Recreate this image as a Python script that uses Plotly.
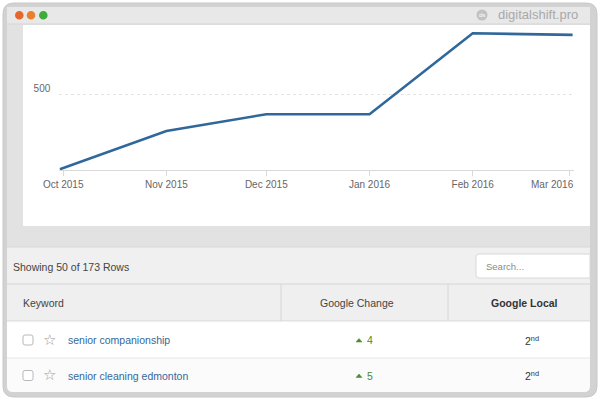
import plotly.graph_objects as go

W, H = 600, 400

# ---- chart data ----
dates = ["2015-09-30", "2015-11-01", "2015-12-01", "2016-01-01", "2016-02-01", "2016-03-02"]
values = [0, 255, 367, 367, 907, 896]
tick_dates = ["2015-10-01", "2015-11-01", "2015-12-01", "2016-01-01", "2016-02-01", "2016-03-01"]
tick_labels = ["Oct 2015", "Nov 2015", "Dec 2015", "Jan 2016", "Feb 2016", "Mar 2016"]
y_ticks = [500]
y_tick_labels = ["500"]

# ---- table data ----
status_text = "Showing 50 of 173 Rows"
search_placeholder = "Search..."
headers = ["Keyword", "Google Change", "Google Local"]
keywords = ["senior companionship", "senior cleaning edmonton"]
changes = [4, 5]
local_ranks = ["2", "2"]
local_suffix = ["nd", "nd"]
brand = "digitalshift.pro"

FONT = "Liberation Sans, Arial, sans-serif"


def X(px):
    return px / W


def Y(py):
    return 1 - py / H


def fmt(a, b):
    return f"{X(a):.5f},{Y(b):.5f}"


def rrect_path(x0, y0, x1, y1, r):
    return (f"M {fmt(x0 + r, y0)} L {fmt(x1 - r, y0)} Q {fmt(x1, y0)} {fmt(x1, y0 + r)} "
            f"L {fmt(x1, y1 - r)} Q {fmt(x1, y1)} {fmt(x1 - r, y1)} L {fmt(x0 + r, y1)} "
            f"Q {fmt(x0, y1)} {fmt(x0, y1 - r)} L {fmt(x0, y0 + r)} Q {fmt(x0, y0)} {fmt(x0 + r, y0)} Z")


def bottom_round_path(x0, y0, x1, y1, r):
    return (f"M {fmt(x0, y0)} L {fmt(x1, y0)} L {fmt(x1, y1 - r)} Q {fmt(x1, y1)} {fmt(x1 - r, y1)} "
            f"L {fmt(x0 + r, y1)} Q {fmt(x0, y1)} {fmt(x0, y1 - r)} Z")


shapes = []


def rect(x0, y0, x1, y1, fill, line=None, lw=0):
    shapes.append(dict(type="rect", xref="paper", yref="paper", x0=X(x0), x1=X(x1), y0=Y(y1), y1=Y(y0),
                       fillcolor=fill, line=dict(color=line or fill, width=lw), layer="below"))


def hline(x0, x1, y, color, w=1):
    shapes.append(dict(type="line", xref="paper", yref="paper", x0=X(x0), x1=X(x1), y0=Y(y), y1=Y(y),
                       line=dict(color=color, width=w), layer="below"))


def vline(x, y0, y1, color, w=1):
    shapes.append(dict(type="line", xref="paper", yref="paper", x0=X(x), x1=X(x), y0=Y(y0), y1=Y(y1),
                       line=dict(color=color, width=w), layer="below"))


def path(p, fill, line, lw=1):
    shapes.append(dict(type="path", xref="paper", yref="paper", path=p, fillcolor=fill,
                       line=dict(color=line, width=lw), layer="below"))


def circle(cx, cy, r, fill):
    shapes.append(dict(type="circle", xref="paper", yref="paper", x0=X(cx - r), x1=X(cx + r),
                       y0=Y(cy + r), y1=Y(cy - r), fillcolor=fill, line=dict(width=0), layer="below"))


# window frame
path(rrect_path(3, 3, 597, 397, 11), "#d2d2d2", "#c8c8c8", 1)
path(rrect_path(7, 7, 590, 392, 7), "#e2e2e2", "#e2e2e2", 0)
rect(7, 7, 590, 24, "#e8e8e8")
hline(7, 590, 24, "#d6d6d6")
# traffic lights
circle(19.3, 15.3, 4.3, "#e5672a")
circle(31, 15.3, 4.3, "#e8802e")
circle(43.3, 15.3, 4.3, "#3dac3c")
# logo circle
circle(482, 15, 5.5, "#c2c2c2")

# chart card
rect(23, 25, 590, 226, "#ffffff")

# toolbar
rect(7, 247, 590, 284, "#f0f0f0")
path(f"M {fmt(590, 254)} L {fmt(479, 254)} Q {fmt(476, 254)} {fmt(476, 257)} "
     f"L {fmt(476, 275)} Q {fmt(476, 278)} {fmt(479, 278)} L {fmt(590, 278)} Z",
     "#ffffff", "#d8d8d8", 1)
hline(7, 590, 247, "#d8d8d8")

# header
rect(7, 284, 590, 321, "#efefef")
hline(7, 590, 284, "#d6d6d6")
hline(7, 590, 321, "#d6d6d6")
vline(281, 284, 321, "#d6d6d6")
vline(448, 284, 321, "#d6d6d6")

# rows
row_tops = [321, 358]
row_bottoms = [358, 392]
rect(7, 321.5, 590, 358, "#ffffff")
path(bottom_round_path(7, 358, 590, 392, 6), "#fbfbfb", "#fbfbfb", 0)
hline(7, 590, 358, "#e6e6e6")

annotations = []


def text(x, y, s, size=10.5, color="#444444", anchor="left", family=FONT):
    annotations.append(dict(x=X(x), y=Y(y), xref="paper", yref="paper", text=s, showarrow=False,
                            xanchor=anchor, yanchor="middle", font=dict(size=size, color=color, family=family)))


text(495.5, 15, brand, size=13, color="#a9a9a9")
text(482, 15.3, "ds", size=6, color="#ffffff", anchor="center")
text(10.5, 266.5, status_text, size=10.5, color="#444444")
text(483.5, 266.5, search_placeholder, size=9.5, color="#8a8a8a")
text(20.5, 302.5, headers[0], size=10.5, color="#444444")
text(357, 302.5, headers[1], size=10.5, color="#444444", anchor="center")
text(524, 303, "<b>" + headers[2] + "</b>", size=10.5, color="#333333", anchor="center")
# last x tick label kept inside the axis end (as in the reference)
text(576, 184, tick_labels[-1], size=10, color="#666666", anchor="right")

for i, kw in enumerate(keywords):
    cy = (row_tops[i] + row_bottoms[i]) / 2 + 0.5
    path(rrect_path(23, cy - 5, 33, cy + 5, 2), "#ffffff", "#b8b8b8", 1)
    text(49.5, cy - 0.5, "☆", size=15, color="#9a9a9a", anchor="center", family="DejaVu Sans")
    text(65.5, cy, kw, size=10.5, color="#36679a")
    tx, ty = 359, cy + 0.5
    path(f"M {fmt(tx - 3, ty + 1.5)} L {fmt(tx + 3, ty + 1.5)} L {fmt(tx, ty - 2)} Z",
         "#4d8a2d", "#4d8a2d", 0.5)
    text(365, cy, str(changes[i]), size=10.5, color="#4d8a2d")
    text(532, cy, local_ranks[i] + "<sup>" + local_suffix[i] + "</sup>", size=10.5, color="#333333", anchor="center")

fig = go.Figure()
fig.add_trace(go.Scatter(x=dates, y=values, mode="lines",
                         line=dict(color="#30689b", width=2.6), hoverinfo="skip", showlegend=False))

fig.update_layout(
    template="none",
    width=W, height=H, autosize=False,
    margin=dict(l=0, r=0, t=0, b=0, pad=0, autoexpand=False),
    paper_bgcolor="#ffffff", plot_bgcolor="rgba(0,0,0,0)",
    font=dict(family=FONT),
    shapes=shapes, annotations=annotations,
    xaxis=dict(type="date", domain=[X(59.3), X(574)], automargin=False,
               range=["2015-09-29 20:00", "2016-03-02 10:00"],
               tickvals=tick_dates, ticktext=tick_labels[:-1] + [""],
               showgrid=False, zeroline=False, showline=True, linecolor="#d9d9d9", linewidth=1,
               ticks="outside", ticklen=5, tickcolor="#d9d9d9", tickwidth=1,
               tickfont=dict(size=10, color="#666666", family=FONT), fixedrange=True),
    yaxis=dict(domain=[Y(170), Y(25)], range=[-5, 962], automargin=False,
               tickvals=y_ticks, ticktext=y_tick_labels,
               showgrid=True, gridcolor="#e3e3e3", griddash="dot", gridwidth=1,
               zeroline=False, showline=False, ticks="",
               ticklabelshift=-6, ticklabelstandoff=8,
               tickfont=dict(size=10, color="#666666", family=FONT), fixedrange=True),
)

fig.write_html("out.html", config={"displayModeBar": False, "staticPlot": True},
               post_script="document.body.style.margin='0';document.body.style.overflow='hidden';")
